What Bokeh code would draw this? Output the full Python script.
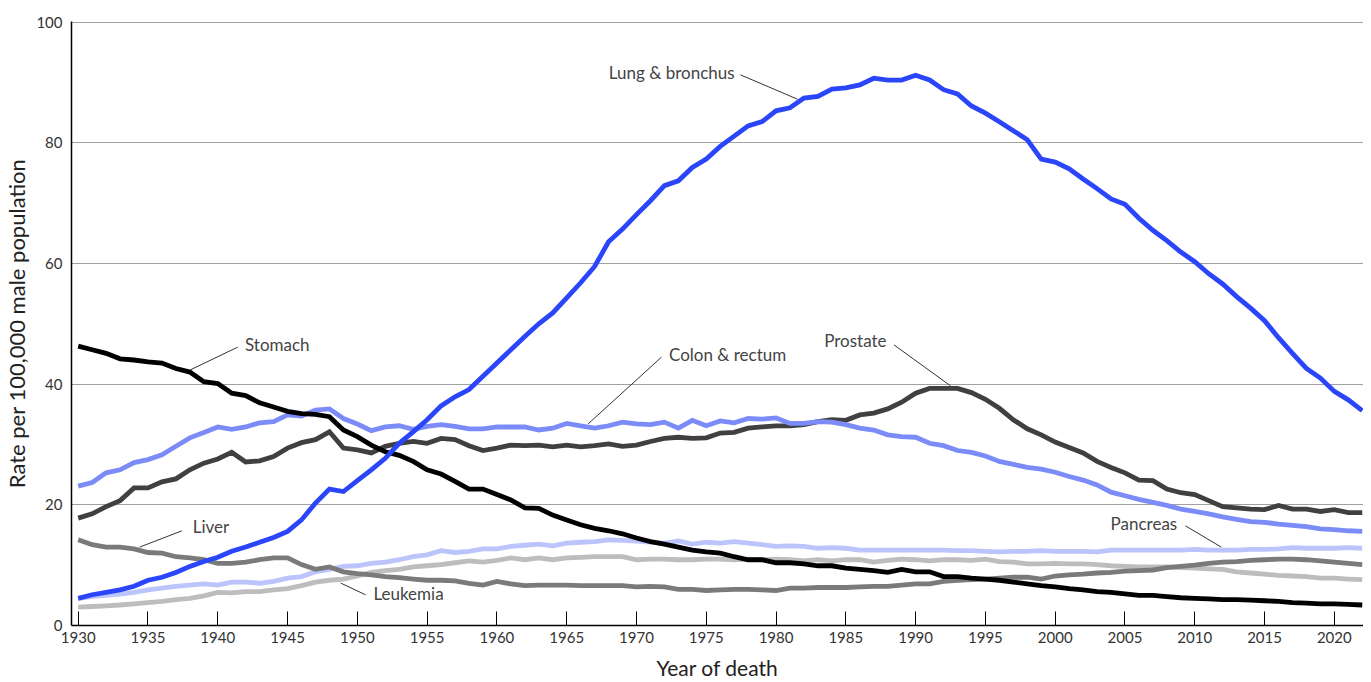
from bokeh.plotting import figure
from bokeh.models import Range1d, FixedTicker, ColumnDataSource, NumeralTickFormatter
from bokeh.embed import file_html
from bokeh.resources import INLINE
from bokeh.core.properties import value

years = list(range(1930, 2023))

stomach = [46.3, 45.7, 45.1, 44.2, 44.0, 43.7, 43.5, 42.6, 42.0, 40.4,
           40.1, 38.5, 38.1, 36.9, 36.2, 35.5, 35.1, 35.0, 34.6, 32.4,
           31.3, 29.9, 28.8, 28.2, 27.2, 25.8, 25.1, 23.9, 22.6, 22.6,
           21.7, 20.8, 19.5, 19.4, 18.3, 17.5, 16.7, 16.1, 15.7, 15.2,
           14.5, 13.9, 13.5, 13.0, 12.5, 12.2, 12.0, 11.4, 10.9, 10.9,
           10.4, 10.4, 10.2, 9.9, 9.9, 9.5, 9.3, 9.1, 8.8, 9.3,
           8.9, 8.9, 8.1, 8.1, 7.85, 7.7, 7.5, 7.2, 6.9, 6.6,
           6.4, 6.1, 5.9, 5.6, 5.5, 5.25, 5.0, 5.0, 4.8, 4.6,
           4.5, 4.4, 4.3, 4.3, 4.2, 4.1, 4.0, 3.8, 3.7, 3.6,
           3.6, 3.5, 3.4]

lung = [4.5, 5.1, 5.5, 5.9, 6.5, 7.5, 8.0, 8.8, 9.8, 10.6,
        11.3, 12.3, 13.0, 13.8, 14.6, 15.6, 17.5, 20.3, 22.6, 22.2,
        24.0, 25.8, 27.7, 30.2, 32.1, 34.1, 36.4, 37.9, 39.1, 41.3,
        43.5, 45.7, 47.9, 50.0, 51.8, 54.3, 56.8, 59.5, 63.6, 65.7,
        68.1, 70.4, 72.9, 73.7, 75.9, 77.3, 79.4, 81.1, 82.8, 83.5,
        85.3, 85.8, 87.4, 87.7, 88.9, 89.1, 89.6, 90.7, 90.4, 90.4,
        91.2, 90.4, 88.8, 88.1, 86.1, 84.9, 83.5, 82.0, 80.5, 77.3,
        76.8, 75.7, 74.0, 72.4, 70.7, 69.8, 67.5, 65.5, 63.8, 61.9,
        60.3, 58.3, 56.6, 54.5, 52.6, 50.5, 47.7, 45.1, 42.6, 41.0,
        38.8, 37.4, 35.6]

colon = [23.1, 23.7, 25.3, 25.8, 27.0, 27.5, 28.3, 29.7, 31.1, 32.0,
         32.9, 32.5, 32.9, 33.6, 33.8, 34.9, 34.7, 35.7, 35.9, 34.3,
         33.4, 32.3, 32.9, 33.1, 32.5, 33.0, 33.3, 33.0, 32.6, 32.6,
         32.9, 32.9, 32.9, 32.4, 32.7, 33.5, 33.1, 32.7, 33.1, 33.7,
         33.4, 33.3, 33.7, 32.7, 34.0, 33.1, 33.9, 33.6, 34.3, 34.2,
         34.4, 33.5, 33.5, 33.8, 33.7, 33.3, 32.7, 32.4, 31.6, 31.3,
         31.2, 30.2, 29.8, 29.0, 28.7, 28.1, 27.2, 26.7, 26.2, 25.9,
         25.4, 24.7, 24.1, 23.3, 22.1, 21.5, 20.9, 20.4, 19.9, 19.3,
         18.9, 18.5, 18.0, 17.6, 17.2, 17.1, 16.8, 16.6, 16.4, 16.0,
         15.9, 15.7, 15.6]

prostate = [17.8, 18.5, 19.7, 20.7, 22.8, 22.8, 23.8, 24.3, 25.8, 26.9,
            27.6, 28.7, 27.1, 27.3, 28.0, 29.4, 30.3, 30.8, 32.1, 29.4,
            29.1, 28.6, 29.7, 30.2, 30.5, 30.2, 31.0, 30.8, 29.8, 29.0,
            29.4, 29.9, 29.8, 29.9, 29.6, 29.9, 29.6, 29.8, 30.1, 29.7,
            29.9, 30.5, 31.0, 31.2, 31.0, 31.1, 31.9, 32.0, 32.7, 32.9,
            33.1, 33.1, 33.3, 33.8, 34.1, 34.0, 34.9, 35.2, 35.9, 37.0,
            38.5, 39.3, 39.3, 39.3, 38.6, 37.5, 36.0, 34.1, 32.6, 31.6,
            30.4, 29.5, 28.6, 27.2, 26.2, 25.3, 24.1, 24.0, 22.6, 22.0,
            21.7, 20.7, 19.7, 19.5, 19.3, 19.2, 19.9, 19.3, 19.3, 18.9,
            19.2, 18.7, 18.7]

liver = [14.2, 13.4, 13.0, 13.0, 12.7, 12.1, 12.0, 11.4, 11.2, 10.9,
         10.3, 10.3, 10.5, 10.9, 11.2, 11.2, 10.1, 9.3, 9.7, 8.9,
         8.6, 8.4, 8.1, 7.95, 7.7, 7.5, 7.5, 7.4, 7.0, 6.7,
         7.3, 6.9, 6.6, 6.7, 6.7, 6.7, 6.6, 6.6, 6.6, 6.6,
         6.4, 6.5, 6.4, 6.0, 6.0, 5.8, 5.9, 6.0, 6.0, 5.9,
         5.8, 6.2, 6.2, 6.3, 6.3, 6.3, 6.4, 6.5, 6.5, 6.7,
         6.9, 6.9, 7.3, 7.5, 7.6, 7.7, 7.85, 8.0, 8.0, 7.7,
         8.2, 8.4, 8.5, 8.7, 8.8, 9.0, 9.1, 9.2, 9.6, 9.8,
         10.0, 10.3, 10.5, 10.6, 10.8, 10.9, 11.0, 11.0, 10.9, 10.7,
         10.5, 10.3, 10.1]

pancreas = [4.5, 4.8, 5.0, 5.2, 5.5, 5.9, 6.2, 6.5, 6.7, 6.9,
            6.7, 7.2, 7.2, 7.0, 7.3, 7.85, 8.1, 8.9, 9.3, 9.8,
            9.9, 10.3, 10.5, 10.9, 11.4, 11.7, 12.4, 12.1, 12.3, 12.7,
            12.7, 13.1, 13.3, 13.5, 13.2, 13.65, 13.8, 13.9, 14.2, 14.1,
            14.0, 13.8, 13.65, 14.0, 13.5, 13.8, 13.65, 13.9, 13.65, 13.4,
            13.1, 13.2, 13.1, 12.8, 12.9, 12.8, 12.5, 12.5, 12.5, 12.5,
            12.5, 12.5, 12.5, 12.4, 12.4, 12.3, 12.2, 12.3, 12.3, 12.4,
            12.3, 12.3, 12.3, 12.2, 12.5, 12.5, 12.5, 12.5, 12.5, 12.5,
            12.6, 12.5, 12.5, 12.5, 12.6, 12.6, 12.7, 12.9, 12.8, 12.8,
            12.8, 12.9, 12.8]

leukemia = [3.05, 3.15, 3.25, 3.4, 3.6, 3.8, 4.0, 4.3, 4.5, 4.9,
            5.5, 5.4, 5.6, 5.6, 5.9, 6.1, 6.6, 7.2, 7.5, 7.7,
            8.2, 8.8, 9.1, 9.3, 9.7, 9.9, 10.1, 10.4, 10.7, 10.5,
            10.8, 11.2, 10.9, 11.2, 10.9, 11.2, 11.3, 11.4, 11.4, 11.4,
            10.9, 11.0, 11.0, 10.9, 10.9, 11.0, 11.0, 10.9, 11.0, 10.9,
            11.0, 10.9, 10.7, 10.9, 10.7, 10.9, 10.9, 10.5, 10.8, 11.0,
            10.9, 10.7, 10.9, 10.9, 10.8, 11.0, 10.6, 10.5, 10.2, 10.2,
            10.3, 10.2, 10.2, 10.1, 9.9, 9.8, 9.7, 9.7, 9.7, 9.6,
            9.5, 9.4, 9.3, 8.9, 8.7, 8.5, 8.3, 8.2, 8.1, 7.85,
            7.85, 7.7, 7.6]

# series drawn bottom-to-top
series_names = ["Leukemia", "Pancreas", "Liver", "Prostate", "Colon & rectum", "Stomach", "Lung & bronchus"]
series_values = [leukemia, pancreas, liver, prostate, colon, stomach, lung]
series_colors = ["#bdbdbd", "#bcc4fc", "#7a7a7a", "#404040", "#7b8cf8", "#000000", "#2b45fb"]

# annotation labels (data units) and leader lines
label_text = ["Stomach", "Liver", "Leukemia", "Colon & rectum", "Prostate", "Pancreas", "Lung & bronchus"]
label_x = [1941.95, 1938.2, 1951.15, 1972.33, 1983.45, 2003.97, 1968.02]
label_y = [46.6, 16.35, 5.25, 44.85, 47.25, 16.97, 91.65]
lead_x0 = [1941.43, 1937.43, 1950.59, 1971.79, 1988.45, 2009.33, 1977.45]
lead_y0 = [46.13, 15.69, 5.09, 44.47, 46.51, 16.52, 91.26]
lead_x1 = [1938.04, 1934.40, 1948.81, 1966.54, 1992.50, 2011.90, 1981.54]
lead_y1 = [42.37, 12.99, 7.03, 33.42, 39.72, 12.99, 87.22]

x_ticks = list(range(1930, 2021, 5))
y_ticks = [0, 20, 40, 60, 80, 100]

FONT = "Lato"

p = figure(width=1363, height=682, output_backend="svg", toolbar_location=None,
           x_range=Range1d(1929.52, 2022.09), y_range=Range1d(0, 100.1))
p.min_border_left = 67
p.min_border_right = 0
p.min_border_top = 21
p.min_border_bottom = 55
p.outline_line_color = None
p.background_fill_color = "white"
p.border_fill_color = "white"

p.xgrid.grid_line_color = None
p.ygrid.grid_line_color = "#a0a0a0"
p.ygrid.grid_line_width = 1
p.ygrid.ticker = FixedTicker(ticks=[20, 40, 60, 80, 100])

xa = p.xaxis[0]
xa.ticker = FixedTicker(ticks=x_ticks)
xa.formatter = NumeralTickFormatter(format="0")
xa.axis_line_color = "black"
xa.axis_line_width = 1.5
xa.major_tick_in = 14
xa.major_tick_out = 0
xa.major_tick_line_color = "black"
xa.minor_tick_line_color = None
xa.major_label_standoff = 6
xa.major_label_text_font = FONT
xa.major_label_text_font_size = "15px"
xa.major_label_text_color = "#333333"
xa.axis_label = "Year of death"
xa.axis_label_text_font = FONT
xa.axis_label_text_font_size = "21px"
xa.axis_label_text_font_style = "normal"
xa.axis_label_text_color = "#222222"
xa.axis_label_standoff = 9

ya = p.yaxis[0]
ya.ticker = FixedTicker(ticks=y_ticks)
ya.axis_line_color = "black"
ya.axis_line_width = 1.5
ya.major_tick_in = 0
ya.major_tick_out = 0
ya.minor_tick_line_color = None
ya.major_label_standoff = 9
ya.major_label_text_font = FONT
ya.major_label_text_font_size = "15px"
ya.major_label_text_color = "#333333"
ya.major_label_text_baseline = "alphabetic"
ya.axis_label = "Rate per 100,000 male population"
ya.axis_label_text_font = FONT
ya.axis_label_text_font_size = "22px"
ya.axis_label_text_font_style = "normal"
ya.axis_label_text_color = "#222222"
ya.axis_label_standoff = 3

for name, vals, col in zip(series_names, series_values, series_colors):
    p.line(years, vals, line_color=col, line_width=4.8, line_join="miter")

lead_src = ColumnDataSource(dict(x0=lead_x0, y0=lead_y0, x1=lead_x1, y1=lead_y1))
p.segment(x0="x0", y0="y0", x1="x1", y1="y1", source=lead_src,
          line_color="#333333", line_width=1)

lab_src = ColumnDataSource(dict(x=label_x, y=label_y, t=label_text))
p.text(x="x", y="y", text="t", source=lab_src, text_font=value(FONT),
       text_font_size="17px", text_color="#444444", text_align="left",
       text_baseline="middle")

open("out.html", "w").write(file_html(p, INLINE))
